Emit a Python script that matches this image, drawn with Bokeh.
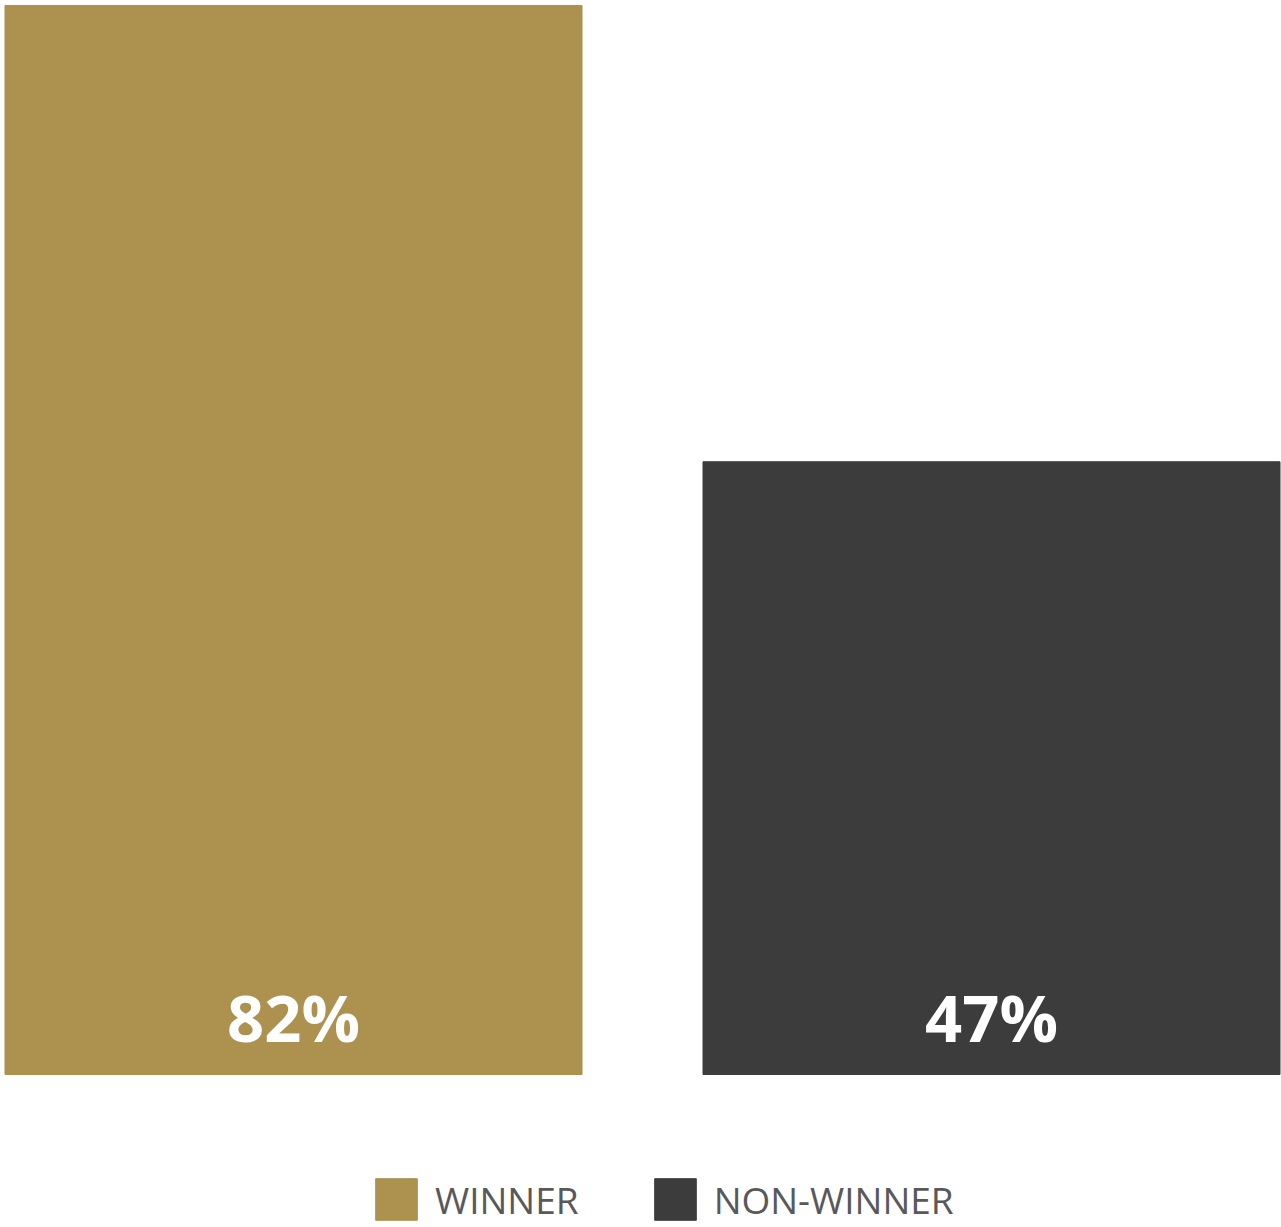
from bokeh.plotting import figure
from bokeh.models import ColumnDataSource, LabelSet, Legend, LegendItem, Range1d
from bokeh.core.properties import value
from bokeh.embed import file_html
from bokeh.resources import INLINE

categories = ["WINNER", "NON-WINNER"]
values = [82, 47]
labels = ["82%", "47%"]
colors = ["#AC914F", "#3C3C3C"]

src = ColumnDataSource(dict(x=list(range(len(categories))), top=values,
                            label=labels, color=colors, cat=categories))

W, H = 1281, 1227
p = figure(width=W, height=H, output_backend="svg", toolbar_location=None,
           x_range=Range1d(-293 / 698, (W - 293) / 698),
           y_range=Range1d(-(H - 1074) / 13.037, 1074 / 13.037),
           min_border=0, outline_line_color=None)
p.xaxis.visible = False
p.yaxis.visible = False
p.xgrid.visible = False
p.ygrid.visible = False
p.background_fill_color = "white"
p.border_fill_color = "white"

r = p.vbar(x="x", top="top", bottom=0, width=577 / 698, color="color", source=src)

lbl = LabelSet(x="x", y=0, text="label", source=src, text_align="center",
               text_baseline="middle", y_offset=58, text_color="white",
               text_font=value("Open Sans"), text_font_style="bold",
               text_font_size="65px")
p.add_layout(lbl)

legend = Legend(items=[LegendItem(label=categories[i], renderers=[r], index=i) for i in range(len(categories))],
                orientation="horizontal", location=(370, 2), padding=0, margin=0,
                spacing=70, label_standoff=13, glyph_width=52, glyph_height=52,
                label_text_font="Open Sans", label_text_font_size="37px",
                label_text_color="#595959", border_line_color=None,
                background_fill_alpha=0)
p.add_layout(legend)

open("out.html", "w").write(file_html(p, INLINE))
